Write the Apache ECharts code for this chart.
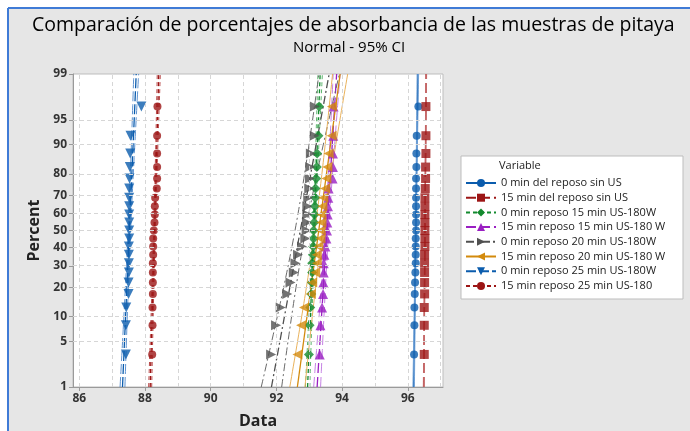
<!DOCTYPE html>
<html><head><meta charset="utf-8">
<script src="https://cdn.jsdelivr.net/npm/echarts@6/dist/echarts.min.js"></script>
<style>html,body{margin:0;padding:0;background:#fff}#c{width:690px;height:431px}</style>
</head><body><div id="c"></div>
<script>
// ---------- data ----------
const seriesNames = [
  '0 min del reposo sin US',
  '15 min del reposo sin US',
  '0 min reposo 15 min US-180W',
  '15 min reposo 15 min US-180 W',
  '0 min reposo 20 min US-180W',
  '15 min reposo 20 min US-180 W',
  '0 min reposo 25 min US-180W',
  '15 min reposo 25 min US-180'
];
const s1 = [96.19,96.20,96.20,96.21,96.22,96.23,96.24,96.24,96.24,96.24,96.25,96.25,96.25,96.25,96.25,96.25,96.25,96.26,96.26,96.27,96.32];
const s2 = [96.50,96.50,96.50,96.51,96.51,96.51,96.51,96.51,96.52,96.52,96.52,96.52,96.52,96.52,96.52,96.53,96.54,96.54,96.55,96.55,96.55];
const s3 = [92.99,93.01,93.03,93.06,93.08,93.09,93.09,93.11,93.12,93.13,93.13,93.15,93.16,93.17,93.18,93.19,93.21,93.23,93.24,93.28,93.30];
const s4 = [93.32,93.34,93.39,93.42,93.43,93.44,93.44,93.46,93.49,93.52,93.54,93.55,93.56,93.57,93.58,93.59,93.71,93.72,93.72,93.73,93.74];
const s5 = [91.84,91.99,92.13,92.33,92.43,92.53,92.58,92.66,92.78,92.88,92.92,92.93,92.94,92.94,92.97,93.00,93.02,93.03,93.05,93.16,93.17];
const s6 = [92.64,92.75,92.84,93.05,93.09,93.18,93.23,93.23,93.28,93.34,93.35,93.37,93.37,93.40,93.43,93.48,93.52,93.55,93.59,93.68,93.69];
const s7 = [87.42,87.42,87.43,87.50,87.50,87.51,87.51,87.51,87.51,87.52,87.52,87.52,87.52,87.52,87.52,87.52,87.53,87.54,87.55,87.56,87.89];
const s8 = [88.22,88.23,88.23,88.24,88.24,88.24,88.24,88.25,88.25,88.25,88.27,88.29,88.30,88.30,88.31,88.36,88.37,88.37,88.37,88.37,88.38];
const allSeries = [s1,s2,s3,s4,s5,s6,s7,s8];
const percentTicks = [1,5,10,20,30,40,50,60,70,80,90,95,99];
const xTickLabels = [86,88,90,92,94,96];
const xGridValues = [86,87,88,89,90,91,92,93,94,95,96,97];

// ---------- styles ----------
const styles = [
  {color:'#0B5CAD', ci:'#6E9FD6', symbol:'circle',   size:8,  rot:0,   dash:'solid'},
  {color:'#9C1515', ci:'#C76A6A', symbol:'rect',     size:9,  rot:0,   dash:[10,4]},
  {color:'#138A2E', ci:'#5DB56E', symbol:'diamond',  size:10, rot:0,   dash:[4,3]},
  {color:'#9A1FC2', ci:'#C582E3', symbol:'triangle', size:10, rot:0,   dash:[10,4]},
  {color:'#505050', ci:'#6A6A6A', symbol:'triangle', size:10, rot:-90, dash:[8,3,2,3]},
  {color:'#D38A0C', ci:'#E9B25C', symbol:'triangle', size:10, rot:90,  dash:'solid'},
  {color:'#0B5CAD', ci:'#5F93D0', symbol:'triangle', size:10, rot:180, dash:[10,3]},
  {color:'#9C1515', ci:'#B84848', symbol:'circle',   size:8,  rot:0,   dash:[4,3]}
];

function probit(p){
  const a=[-3.969683028665376e+01,2.209460984245205e+02,-2.759285104469687e+02,1.383577518672690e+02,-3.066479806614716e+01,2.506628277459239e+00];
  const b=[-5.447609879822406e+01,1.615858368580409e+02,-1.556989798598866e+02,6.680131188771972e+01,-1.328068155288572e+01];
  const c=[-7.784894002430293e-03,-3.223964580411365e-01,-2.400758277161838e+00,-2.549732539343734e+00,4.374664141464968e+00,2.938163982698783e+00];
  const d=[7.784695709041462e-03,3.224671290700398e-01,2.445134137142996e+00,3.754408661907416e+00];
  const pl=0.02425, ph=1-pl; let q,r;
  if(p<pl){q=Math.sqrt(-2*Math.log(p));return (((((c[0]*q+c[1])*q+c[2])*q+c[3])*q+c[4])*q+c[5])/((((d[0]*q+d[1])*q+d[2])*q+d[3])*q+1);}
  if(p<=ph){q=p-0.5;r=q*q;return (((((a[0]*r+a[1])*r+a[2])*r+a[3])*r+a[4])*r+a[5])*q/(((((b[0]*r+b[1])*r+b[2])*r+b[3])*r+b[4])*r+1);}
  q=Math.sqrt(-2*Math.log(1-p));return -(((((c[0]*q+c[1])*q+c[2])*q+c[3])*q+c[4])*q+c[5])/((((d[0]*q+d[1])*q+d[2])*q+d[3])*q+1);
}
const zMin = probit(0.01), zMax = probit(0.99);
const yTickVals = percentTicks.map(p => probit(p/100));

const series = [];
series.push({
  type:'line', data:[], silent:true, z:0,
  markLine:{silent:true, symbol:'none', label:{show:false}, animation:false,
    lineStyle:{type:[4,3], color:'#D6D6D6', width:1},
    data:[...xGridValues.map(v=>({xAxis:v})), ...yTickVals.map(v=>({yAxis:v}))]}
});
const lineSeries = [], pointSeries = [];
allSeries.forEach((vals, k) => {
  const st = styles[k], name = seriesNames[k];
  const n = vals.length;
  const sorted = vals.slice().sort((a,b)=>a-b);
  const mean = sorted.reduce((a,b)=>a+b,0)/n;
  const sd = Math.sqrt(sorted.reduce((a,b)=>a+(b-mean)*(b-mean),0)/n);
  const pts = sorted.map((v,i)=>[v, probit((i+1-0.3)/(n+0.4))]);
  const steps = 60, fit=[], lo=[], hi=[];
  for (let j=0;j<=steps;j++){
    const z = zMin + (zMax-zMin)*j/steps;
    const xp = mean + z*sd;
    const hw = 1.959964*sd*Math.sqrt(1/n + z*z/(2*n));
    fit.push([xp,z]); lo.push([xp-hw,z]); hi.push([xp+hw,z]);
  }
  lineSeries.push({name, type:'line', data:[fit[0], fit[steps]], symbol:st.symbol, symbolRotate:st.rot, symbolSize:st.size,
    showSymbol:false, z:2, silent:true, animation:false,
    itemStyle:{color:st.color}, lineStyle:{color:st.color, width:1.3, type:st.dash}});
  [lo,hi].forEach(arr=>lineSeries.push({name, type:'line', data:arr, showSymbol:false, symbol:'none', z:2, silent:true, animation:false,
    lineStyle:{color:st.ci, width:1, type:st.dash}}));
  pointSeries.push({name, type:'scatter', data:pts, symbol:st.symbol, symbolRotate:st.rot, symbolSize:st.size, z:3, animation:false,
    itemStyle:{color:st.color}});
});
series.push(...lineSeries, ...pointSeries);

const chart = echarts.init(document.getElementById('c'), null, {renderer:'canvas'});
chart.setOption({
  backgroundColor:'#ffffff',
  animation:false,
  graphic:[
    {type:'rect', shape:{x:8,y:8,width:690,height:431}, style:{fill:'#E6E6E6'}, z:-10, silent:true},
    {type:'line', shape:{x1:8,y1:8,x2:690,y2:8}, style:{stroke:'#3F7BD6', lineWidth:2}, z:-9, silent:true},
    {type:'line', shape:{x1:8,y1:8,x2:8,y2:431}, style:{stroke:'#3F7BD6', lineWidth:2}, z:-9, silent:true},
    {type:'rect', shape:{x:461,y:156,width:222,height:143}, style:{fill:'#ffffff', stroke:'#BDBDBD', lineWidth:1}, z:-5, silent:true},
    {type:'text', left:499, top:160, style:{text:'Variable', fontSize:11, fill:'#222', fontFamily:'Open Sans'}, silent:true}
  ],
  title:[
    {text:'Comparación de porcentajes de absorbancia de las muestras de pitaya', left:32, top:15, padding:0,
      textStyle:{fontSize:19.5, fontWeight:500, color:'#000', fontFamily:'Open Sans'}},
    {text:'Normal - 95% CI', left:293, top:40, padding:0, textStyle:{fontSize:15, fontWeight:500, color:'#000', fontFamily:'Open Sans'}}
  ],
  grid:{left:73, top:74, width:370, height:313, outerBoundsMode:'none', containLabel:false, show:true, backgroundColor:'#ffffff', borderColor:'#BDBDBD', borderWidth:1},
  xAxis:{type:'value', min:85.81, max:97.07, name:'Data', nameLocation:'middle', nameGap:26,
    nameTextStyle:{fontSize:16, color:'#222', fontFamily:'Open Sans', fontWeight:'bold'},
    axisLine:{onZero:false, lineStyle:{color:'#9A9A9A'}}, splitLine:{show:false},
    axisTick:{customValues:xTickLabels, length:4, lineStyle:{color:'#9A9A9A'}},
    axisLabel:{customValues:xTickLabels, fontSize:12, fontWeight:'bold', color:'#333', fontFamily:'Open Sans', margin:6}},
  yAxis:{type:'value', min:zMin, max:zMax, name:'Percent', nameLocation:'middle', nameGap:29, nameRotate:90,
    nameTextStyle:{fontSize:16, color:'#222', fontFamily:'Open Sans', fontWeight:'bold'},
    axisLine:{show:true, onZero:false, lineStyle:{color:'#9A9A9A'}}, splitLine:{show:false},
    axisTick:{show:true, customValues:yTickVals, length:4, lineStyle:{color:'#9A9A9A'}},
    axisLabel:{customValues:yTickVals, fontSize:12, fontWeight:'bold', color:'#333', fontFamily:'Open Sans', margin:6,
      formatter:(v)=>{let best=0,bd=1e9; yTickVals.forEach((t,i)=>{const d=Math.abs(t-v); if(d<bd){bd=d;best=i;}}); return String(percentTicks[best]);}}},
  legend:{orient:'vertical', left:465, top:177, padding:0, itemWidth:30, itemHeight:10, itemGap:2.7, selectedMode:false,
    textStyle:{fontSize:11, lineHeight:12, color:'#222', fontFamily:'Open Sans'}, data:seriesNames},
  series
});
</script></body></html>
